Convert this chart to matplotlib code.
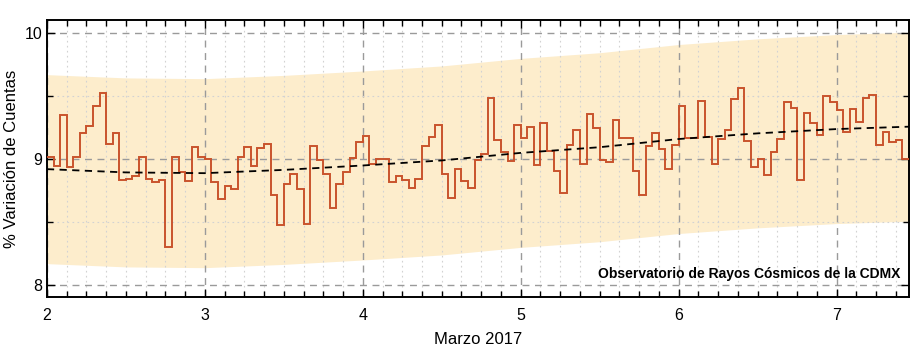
import numpy as np
import matplotlib.pyplot as plt
from matplotlib.ticker import MultipleLocator

# hourly % variation, 2 March 00h -> 7 March 10h
dia2 = [9.016, 8.94, 9.345, 8.93, 9.01, 9.205, 9.26, 9.42, 9.52, 9.116, 9.205, 8.83,
        8.84, 8.86, 9.01, 8.84, 8.81, 8.83, 8.30, 9.01, 8.89, 8.82, 9.09, 9.01]
dia3 = [9.0, 8.81, 8.68, 8.78, 8.755, 9.01, 9.095, 8.94, 9.08, 9.116, 8.71, 8.47,
        8.80, 8.876, 8.755, 8.48, 9.10, 8.99, 8.88, 8.61, 8.80, 8.89, 9.005, 9.13]
dia4 = [9.176, 8.96, 9.0, 9.0, 8.81, 8.86, 8.83, 8.77, 8.84, 9.10, 9.17, 9.27,
        8.88, 8.69, 8.92, 8.82, 8.77, 8.985, 9.04, 9.48, 9.15, 9.05, 8.98, 9.27]
dia5 = [9.16, 9.25, 8.95, 9.28, 9.06, 8.905, 8.73, 9.11, 9.226, 8.955, 9.355, 9.24,
        8.985, 8.97, 9.305, 9.16, 9.16, 8.90, 8.71, 9.10, 9.20, 9.074, 8.92, 9.11]
dia6 = [9.42, 9.16, 9.16, 9.46, 9.17, 8.955, 9.155, 9.226, 9.47, 9.56, 9.137, 8.93,
        8.995, 8.87, 9.05, 9.155, 9.45, 9.40, 8.83, 9.36, 9.28, 9.19, 9.50, 9.445]
dia7 = [9.385, 9.21, 9.395, 9.29, 9.48, 9.505, 9.11, 9.21, 9.13, 9.15, 9.0]

cuentas = np.array(dia2 + dia3 + dia4 + dia5 + dia6 + dia7)
bordes = 2 + np.arange(len(cuentas) + 1) / 24.0

# trend line and band
x_tend = [2.0, 2.5, 3.0, 3.5, 4.0, 4.5, 5.0, 5.5, 6.0, 6.5, 7.0, 7.4583]
tendencia = [8.916, 8.89, 8.884, 8.91, 8.945, 8.985, 9.045, 9.09, 9.155, 9.20, 9.234, 9.253]
banda_sup = [9.666, 9.64, 9.634, 9.66, 9.695, 9.735, 9.795, 9.84, 9.905, 9.95, 9.984, 10.003]
banda_inf = [8.166, 8.14, 8.134, 8.16, 8.195, 8.235, 8.295, 8.34, 8.405, 8.45, 8.484, 8.503]

plt.rcParams['font.family'] = ['Liberation Sans Narrow', 'Liberation Sans', 'DejaVu Sans']

fig = plt.figure(figsize=(9.2, 3.5), dpi=100)
ax = fig.add_axes([0.051, 0.151, 0.937, 0.792])

ax.fill_between(x_tend, banda_inf, banda_sup, color='#fdedcc', lw=0, zorder=1)
ax.stairs(cuentas, bordes, baseline=None, color='#c9532c', lw=1.4, zorder=3)
ax.plot(x_tend, tendencia, color='black', ls='--', lw=1.3, dashes=(4, 3), zorder=4)

ax.set_xlim(2, 7.4583)
ax.set_ylim(7.9, 10.1)
ax.xaxis.set_major_locator(MultipleLocator(1))
ax.xaxis.set_minor_locator(MultipleLocator(0.125))
ax.yaxis.set_major_locator(MultipleLocator(1))
ax.yaxis.set_minor_locator(MultipleLocator(0.5))

ax.set_axisbelow('line')
ax.grid(which='major', color='#9a9a9a', ls=(0, (5, 4)), lw=1.0)
ax.grid(which='minor', color='#d2d2d2', ls=(0, (1.5, 3)), lw=0.8)

ax.tick_params(which='both', direction='in', top=True, right=True, labelsize=11.5, width=1.0)
ax.tick_params(which='major', length=6)
ax.tick_params(which='minor', length=4)
ax.tick_params(axis='x', pad=8)
for s in ax.spines.values():
    s.set_linewidth(1.4)

ax.set_xlabel('Marzo 2017', fontsize=12, labelpad=6)
ax.set_ylabel('% Variación de Cuentas', fontsize=12, labelpad=4)
ax.text(0.99, 0.06, 'Observatorio de Rayos Cósmicos de la CDMX', transform=ax.transAxes,
        ha='right', va='bottom', fontsize=10, fontweight='bold', zorder=5)

plt.savefig('out.png', dpi=100)
